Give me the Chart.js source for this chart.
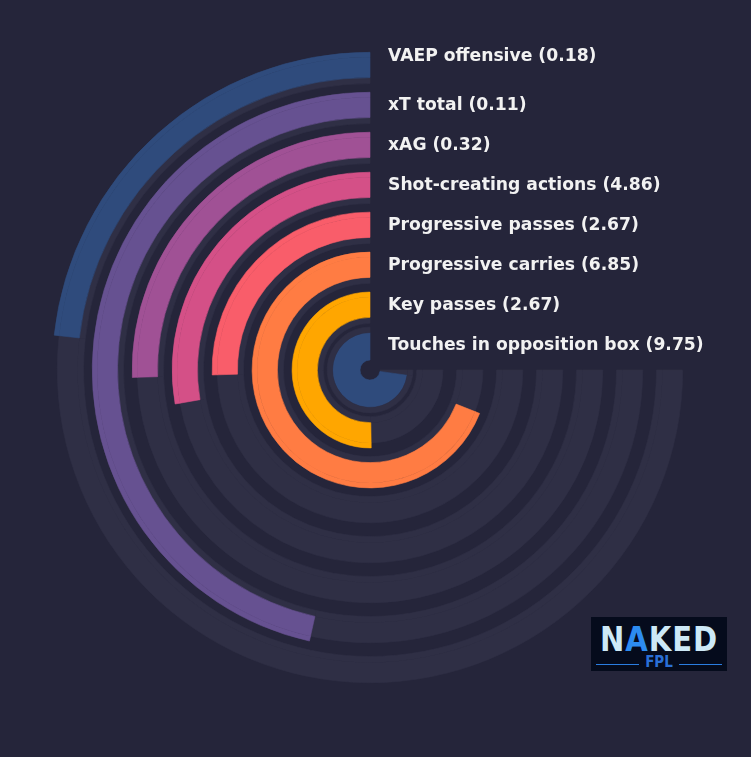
<!DOCTYPE html>
<html>
<head>
<meta charset="utf-8">
<script src="https://cdn.jsdelivr.net/npm/chart.js@4.4.0/dist/chart.umd.min.js"></script>
<style>
  html, body { margin: 0; padding: 0; background: #25253a; }
  #wrap { position: relative; width: 751px; height: 757px; overflow: hidden; }
  #rings { position: absolute; left: 0; top: 0; }
  #logo {
    position: absolute; left: 591px; top: 617px; width: 136px; height: 54px;
    background: #050b1c; font-family: "DejaVu Sans Condensed", "DejaVu Sans", sans-serif;
  }
  #logo .top {
    position: absolute; left: 0; right: 0; top: 5px; text-align: center;
    font-weight: bold; font-size: 34px; line-height: 34px; letter-spacing: 1px; color: #cde9f7;
    transform: scaleX(0.95);
  }
  #logo .top b { color: #2d8cf0; }
  #logo .bot {
    position: absolute; left: 5px; right: 5px; top: 38px; height: 14px;
    display: flex; align-items: center; gap: 6px;
  }
  #logo .bot i { flex: 1; height: 1px; background: #2a7de1; margin-top: 5px; }
  #logo .bot span { font-weight: bold; font-size: 15px; color: #2a6fd6; line-height: 15px; }
</style>
</head>
<body>
<div id="wrap">
  <canvas id="rings" width="751" height="757"></canvas>
  <div id="logo">
    <div class="top">N<b>A</b>KED</div>
    <div class="bot"><i></i><span>FPL</span><i></i></div>
  </div>
</div>
<script>
// metric names, per-90 values shown in the labels, and percentile (bar length)
const labels = ['VAEP offensive', 'xT total', 'xAG', 'Shot-creating actions',
                'Progressive passes', 'Progressive carries', 'Key passes', 'Touches in opposition box'];
const values = [0.18, 0.11, 0.32, 4.86, 2.67, 6.85, 2.67, 9.75];
const percentiles = [31, 62, 34, 37, 34, 92, 67, 97];

const colors = ['#2f4b7c', '#665191', '#a05195', '#d45087', '#f95d6a', '#ff7c43', '#ffa600', '#2f4b7c'];
const TRACK = '#2f2f45';
const NONE = 'rgba(0,0,0,0)';

// radial bands per ring (outside -> in), thickness in px (weights)
// bar sits a few px further out than its grey track
const outerBands = [['bar', 5], ['both', 20.3], ['track', 6], ['gap', 8.7]];
const lastOuterBands = [['bar', 5], ['both', 20.3], ['track', 6], ['gap', 3.7]];
const innerBands = [['track', 5.5], ['both', 27.5]];

const datasets = [];
labels.forEach((name, i) => {
  let bands = outerBands;
  if (i === labels.length - 1) bands = innerBands;
  else if (i === labels.length - 2) bands = lastOuterBands;
  const p = percentiles[i];
  bands.forEach(([kind, w]) => {
    const fill = {
      bar: [NONE, NONE, colors[i]],
      both: [NONE, TRACK, colors[i]],
      track: [NONE, TRACK, TRACK],
      gap: [NONE, NONE, NONE]
    }[kind];
    datasets.push({
      ring: i,
      kind: kind,
      // 90deg empty quadrant (top right), then the 270deg scale: rest, value
      data: [90, (100 - p) * 2.7, p * 2.7],
      backgroundColor: fill,
      borderColor: fill,
      borderWidth: kind === 'gap' ? 0 : 0.6,
      weight: w
    });
  });
});

const ringLabels = {
  id: 'ringLabels',
  afterDatasetsDraw(chart) {
    const ctx = chart.ctx;
    ctx.save();
    ctx.font = 'bold 17.2px "DejaVu Sans"';
    ctx.fillStyle = '#f2f2f2';
    ctx.textBaseline = 'middle';
    ctx.textAlign = 'left';
    labels.forEach((name, i) => {
      let outer = null, inner = null, cx = 0, cy = 0;
      chart.data.datasets.forEach((ds, di) => {
        if (ds.ring !== i) return;
        const arc = chart.getDatasetMeta(di).data[2];
        cx = arc.x; cy = arc.y;
        if (ds.kind === 'bar' || (ds.kind === 'both' && outer === null)) outer = arc.outerRadius;
        if (ds.kind === 'both') inner = arc.innerRadius;
      });
      let y = cy - (outer + inner) / 2 + 1;
      if (i === 0) y -= 9;
      if (i === labels.length - 1) y -= 2;
      ctx.fillText(name + ' (' + values[i].toFixed(2) + ')', cx + 18, y);
    });
    ctx.restore();
  }
};

new Chart(document.getElementById('rings'), {
  type: 'doughnut',
  data: { labels: ['', 'rest', 'value'], datasets: datasets },
  options: {
    responsive: false,
    animation: false,
    events: [],
    cutout: 10,
    rotation: 0,
    circumference: 360,
    layout: { padding: { left: 52, top: 52, right: 63, bottom: 69 } },
    plugins: { legend: { display: false }, tooltip: { enabled: false } }
  },
  plugins: [ringLabels]
});
</script>
</body>
</html>
